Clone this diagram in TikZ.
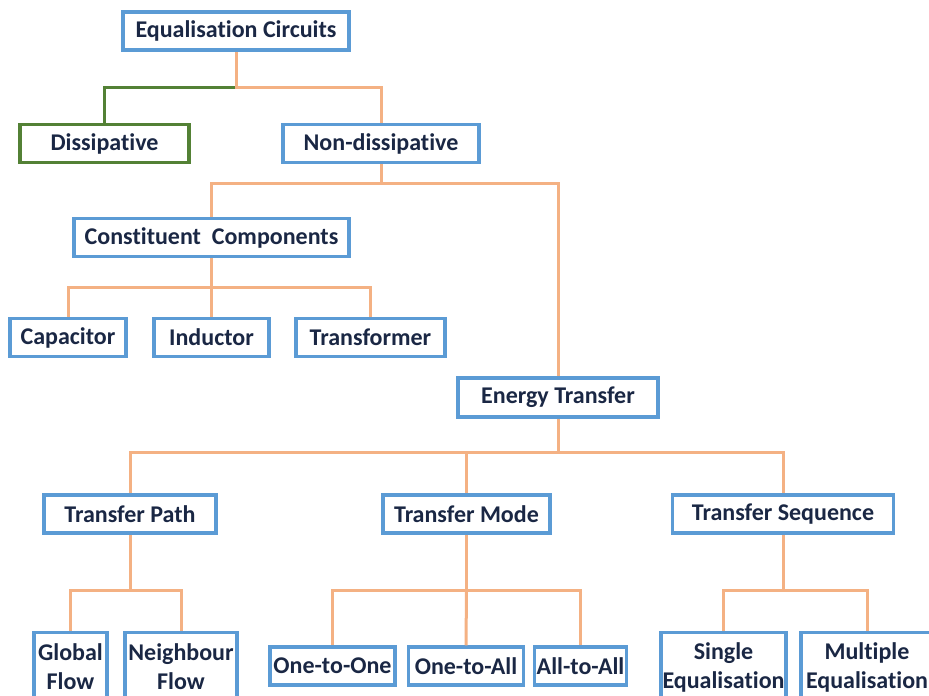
\documentclass[tikz,border=0pt]{standalone}
\usepackage{fontspec}
\setmainfont[Ligatures={NoCommon}]{Carlito}
\definecolor{boxblue}{HTML}{5B9BD5}
\definecolor{linkorange}{HTML}{F4B183}
\definecolor{dgreen}{HTML}{538135}
\definecolor{txt}{HTML}{1A2744}
\begin{document}
\begin{tikzpicture}[x=1pt,y=-1pt,
  box/.style={draw=boxblue,line width=3.5pt,fill=white,inner sep=0pt,
    minimum height=38pt,text=txt,font=\fontsize{24}{29}\selectfont\bfseries,align=center},
  gbox/.style={box,draw=dgreen},
  tall/.style={box,minimum height=69pt},
  conn/.style={draw=linkorange,line width=3pt},
  gconn/.style={draw=dgreen,line width=3pt}]
\useasboundingbox (0,0) rectangle (929,696);
\clip (0,0) rectangle (929,696);
% nodes
\node[box,minimum width=226pt] (ec) at (236,31) {Equalisation Circuits};
\node[gbox,minimum width=169pt] (dis) at (104.5,143.5) {Dissipative};
\node[box,minimum width=196pt] (nd) at (381,143.5) {Non-dissipative};
\node[box,minimum width=275pt] (cc) at (211.5,237.5) {Constituent~~Components};
\node[box,minimum width=116pt] (cap) at (68,337.5) {Capacitor};
\node[box,minimum width=115pt] (ind) at (211.5,337.5) {Inductor};
\node[box,minimum width=149pt] (tra) at (370.5,337.5) {Transformer};
\node[box,minimum width=200pt,minimum height=39pt] (et) at (558,397.5) {Energy Transfer};
\node[box,minimum width=172pt] (tp) at (130,514) {Transfer Path};
\node[box,minimum width=167pt] (tm) at (466.5,514) {Transfer Mode};
\node[box,minimum width=221pt] (ts) at (783,514) {Transfer Sequence};
\node[tall,minimum width=73pt] (gf) at (70.5,667) {Global\\Flow};
\node[tall,minimum width=112pt] (nf) at (181,667) {Neighbour\\Flow};
\node[box,minimum width=125pt] (oo) at (332.5,666) {One-to-One};
\node[box,minimum width=115pt] (oa) at (466,666) {One-to-All};
\node[box,minimum width=92pt] (aa) at (580.5,666) {All-to-All};
\node[tall,minimum width=125pt] (se) at (723.5,667) {Single\\Equalisation};
\node[tall,minimum width=132pt] (me) at (867,667) {Multiple\\Equalisation};
% junctions
\coordinate (j0) at (236,87);
\coordinate (j1) at (381,183);
\coordinate (j2) at (211.5,287);
\coordinate (j3) at (558,452);
\coordinate (j4) at (130,590);
\coordinate (j5) at (466.5,590);
\coordinate (j6) at (783,590);
% connectors
\draw[gconn] (j0) -| (dis.north);
\draw[conn] (ec.south) -- (j0) -| (nd.north);
\draw[conn] (nd.south) -- (j1) -| (cc.north);
\draw[conn] (j1) -| (et.north);
\draw[conn] (cc.south) -- (j2) -| (cap.north);
\draw[conn] (j2) -- (ind.north);
\draw[conn] (j2) -| (tra.north);
\draw[conn] (et.south) -- (j3) -| (tp.north);
\draw[conn] (j3) -| (tm.north);
\draw[conn] (j3) -| (ts.north);
\draw[conn] (tp.south) -- (j4) -| (gf.north);
\draw[conn] (j4) -| (nf.north);
\draw[conn] (tm.south) -- (j5) -| (oo.north);
\draw[conn] (j5) -- (oa.north);
\draw[conn] (j5) -| (aa.north);
\draw[conn] (ts.south) -- (j6) -| (se.north);
\draw[conn] (j6) -| (me.north);
\end{tikzpicture}
\end{document}
